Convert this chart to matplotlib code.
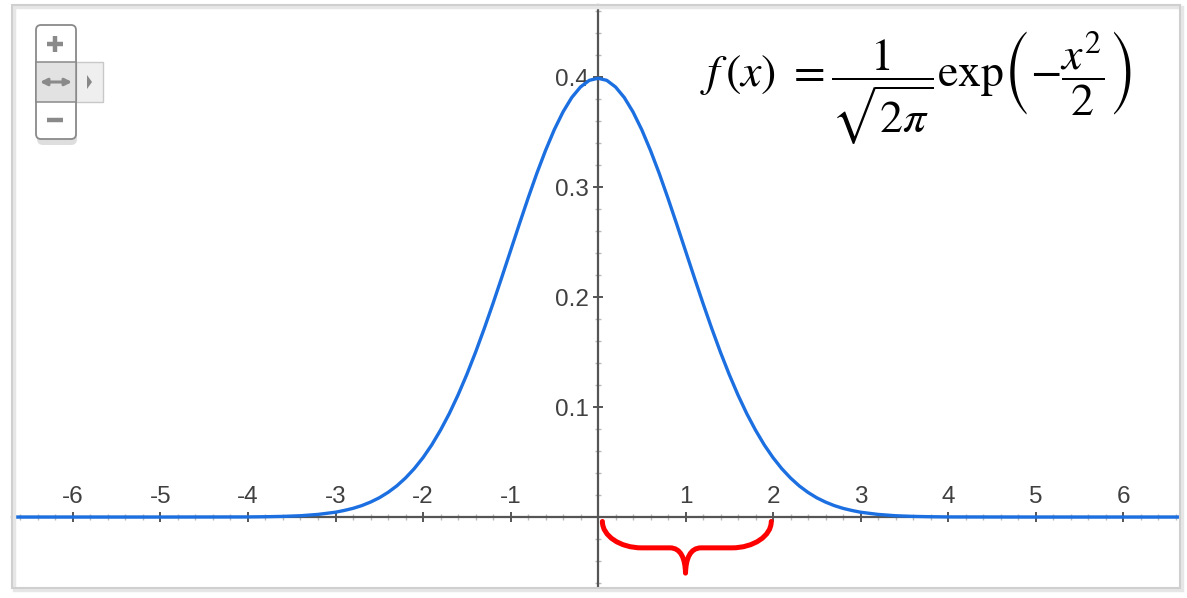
import matplotlib
matplotlib.use('Agg')
import matplotlib.pyplot as plt
from matplotlib.ticker import MultipleLocator, FuncFormatter
from matplotlib.path import Path
from matplotlib.patches import PathPatch, FancyBboxPatch, Rectangle, Polygon

plt.rcParams['font.family'] = ['Liberation Sans', 'DejaVu Sans']
plt.rcParams['mathtext.fontset'] = 'stix'

# curve
x_vals = [-7.0, -5.0, -4.0, -3.8, -3.6, -3.4, -3.2, -3.0, -2.9, -2.8, -2.7, -2.6, -2.5,
          -2.4, -2.3, -2.2, -2.1, -2.0, -1.9, -1.8, -1.7, -1.6, -1.5, -1.4, -1.3, -1.2,
          -1.1, -1.0, -0.9, -0.8, -0.7, -0.6, -0.5, -0.4, -0.3, -0.2, -0.1, 0.0,
          0.1, 0.2, 0.3, 0.4, 0.5, 0.6, 0.7, 0.8, 0.9, 1.0, 1.1, 1.2, 1.3, 1.4, 1.5,
          1.6, 1.7, 1.8, 1.9, 2.0, 2.1, 2.2, 2.3, 2.4, 2.5, 2.6, 2.7, 2.8, 2.9, 3.0,
          3.2, 3.4, 3.6, 3.8, 4.0, 5.0, 7.0]
y_vals = [0.0, 0.0, 0.0001, 0.0003, 0.0006, 0.0012, 0.0024, 0.0044, 0.0060, 0.0079, 0.0104, 0.0136, 0.0175,
          0.0224, 0.0283, 0.0355, 0.0440, 0.0540, 0.0656, 0.0790, 0.0940, 0.1109, 0.1295, 0.1497, 0.1714, 0.1942,
          0.2179, 0.2420, 0.2661, 0.2897, 0.3123, 0.3332, 0.3521, 0.3683, 0.3814, 0.3910, 0.3970, 0.3989,
          0.3970, 0.3910, 0.3814, 0.3683, 0.3521, 0.3332, 0.3123, 0.2897, 0.2661, 0.2420, 0.2179, 0.1942, 0.1714, 0.1497, 0.1295,
          0.1109, 0.0940, 0.0790, 0.0656, 0.0540, 0.0440, 0.0355, 0.0283, 0.0224, 0.0175, 0.0136, 0.0104, 0.0079, 0.0060, 0.0044,
          0.0024, 0.0012, 0.0006, 0.0003, 0.0001, 0.0, 0.0]

x_ticks = [-6, -5, -4, -3, -2, -1, 1, 2, 3, 4, 5, 6]
y_ticks = [0.1, 0.2, 0.3, 0.4]
brace_range = [0, 2]   # interval marked by the red brace
formula = r'$f\,(x)\ =\dfrac{1}{\sqrt{2\pi}}\mathrm{exp}\left(-\dfrac{x^2}{2}\right)$'

W, H = 1187, 598
fig = plt.figure(figsize=(W / 100, H / 100), dpi=100)
fig.patch.set_facecolor('white')

# plot area in pixels
L, R, T, B = 12, 1180, 5, 588
ax = fig.add_axes([L / W, 1 - B / H, (R - L) / W, (B - T) / H])
ax.set_xlim(-6.697, 6.651)
ax.set_ylim(-0.0645, 0.4655)

ax.plot(x_vals, y_vals, color='#1b6fe0', lw=2.4, zorder=3, solid_capstyle='butt')

# axes through the origin
for s in ['bottom', 'right']:
    ax.spines[s].set_visible(False)
ax.spines['top'].set_position(('data', 0))
ax.spines['left'].set_position(('data', 0))
for s in ['top', 'left']:
    ax.spines[s].set_color('#555555')
    ax.spines[s].set_linewidth(1.6)
    ax.spines[s].set_zorder(2)

ax.xaxis.tick_top()
ax.xaxis.set_major_locator(MultipleLocator(1))
ax.xaxis.set_minor_locator(MultipleLocator(0.2))
ax.yaxis.set_major_locator(MultipleLocator(0.1))
ax.yaxis.set_minor_locator(MultipleLocator(0.02))

ax.xaxis.set_major_formatter(FuncFormatter(lambda v, p: '%d' % round(v) if round(v) in x_ticks else ''))
ax.yaxis.set_major_formatter(FuncFormatter(lambda v, p: '%.1f' % v if round(v, 1) in y_ticks else ''))

ax.tick_params(which='major', direction='inout', length=7.5, width=1.4, color='#555555',
               labelsize=17.5, labelcolor='#404040')
ax.tick_params(axis='x', which='major', pad=3)
ax.tick_params(axis='y', which='major', pad=3)
ax.tick_params(which='minor', direction='inout', length=5, width=1.0, color='#bbbbbb')

# red brace under the x axis, rounded corners and a pointed middle
a, b = brace_range[0] + 0.05, brace_range[1] - 0.02
m = (brace_range[0] + brace_range[1]) / 2
y0, yh, yt = -0.004, -0.028, -0.051
dx = 0.45
verts = [(a, y0), (a, y0 + 0.55 * (yh - y0)), (a + 0.45 * dx, yh), (a + dx, yh),
         (m - 0.18, yh),
         (m - 0.05, yh), (m - 0.005, yh - 0.01), (m, yt),
         (m + 0.005, yh - 0.01), (m + 0.05, yh), (m + 0.18, yh),
         (b - dx, yh),
         (b - 0.45 * dx, yh), (b, y0 + 0.55 * (yh - y0)), (b, y0)]
codes = [Path.MOVETO, Path.CURVE4, Path.CURVE4, Path.CURVE4,
         Path.LINETO,
         Path.CURVE4, Path.CURVE4, Path.CURVE4,
         Path.CURVE4, Path.CURVE4, Path.CURVE4,
         Path.LINETO,
         Path.CURVE4, Path.CURVE4, Path.CURVE4]
ax.add_patch(PathPatch(Path(verts, codes), facecolor='none', edgecolor='#ff0000',
                       lw=3.6, capstyle='round', joinstyle='round', zorder=4, clip_on=False))

# overlay in pixel coordinates: frame, zoom widget, formula
ov = fig.add_axes([0, 0, 1, 1], facecolor='none')
ov.set_xlim(0, W)
ov.set_ylim(H, 0)
ov.axis('off')

ov.add_patch(Rectangle((L + 2, T + 2), R - L, B - T, fill=False, ec='#e6e6e6', lw=2.5))
ov.add_patch(Rectangle((L, T), R - L, B - T, fill=False, ec='#cfcfcf', lw=1.5))

# zoom widget
ov.add_patch(FancyBboxPatch((37, 29), 40, 116, boxstyle='round,pad=0,rounding_size=6',
                            fc='#c8c8c8', ec='none', alpha=0.6))
ov.add_patch(Rectangle((76, 62), 27, 40, fc='#efefef', ec='#c8c8c8', lw=1))
ov.add_patch(Polygon([[87, 75], [87, 89], [92, 82]], closed=True, fc='#888888', ec='none'))
ov.add_patch(FancyBboxPatch((36, 25), 40, 114, boxstyle='round,pad=0,rounding_size=5',
                            fc='white', ec='#8a8a8a', lw=1.3))
ov.add_patch(Rectangle((36, 62), 40, 40, fc='#e2e2e2', ec='#8a8a8a', lw=1.1))
ov.plot([55, 55], [36, 52], color='#8a8a8a', lw=3.2, solid_capstyle='butt')
ov.plot([47, 63], [44, 44], color='#8a8a8a', lw=3.2, solid_capstyle='butt')
ov.plot([47, 63], [120, 120], color='#8a8a8a', lw=3.2, solid_capstyle='butt')
ov.annotate('', xy=(40, 82), xytext=(72, 82),
            arrowprops=dict(arrowstyle='<|-|>', color='#8a8a8a', lw=2.2,
                            mutation_scale=10, shrinkA=0, shrinkB=0))

ov.text(700, 88, formula, fontsize=33, ha='left', va='center', color='black')

fig.savefig('out.png', dpi=100, facecolor='white')
